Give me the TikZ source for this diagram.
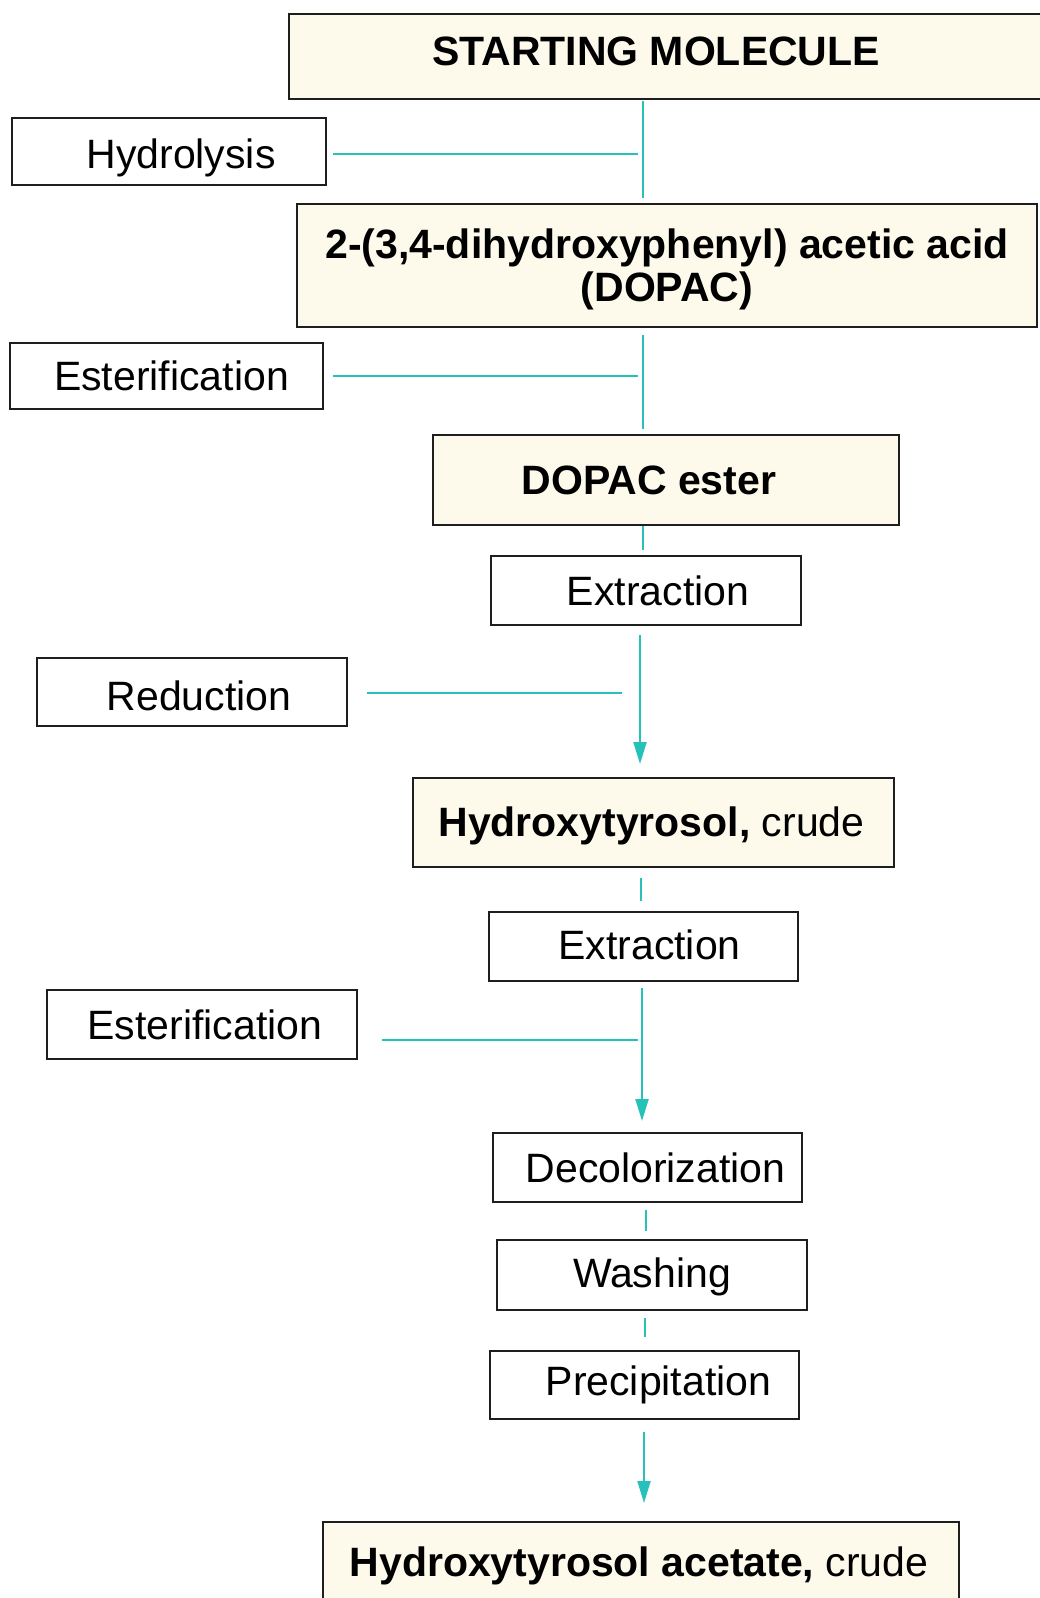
\documentclass[tikz,border=0pt]{standalone}
\usepackage{fontspec}
\setmainfont{Liberation Sans}
\usetikzlibrary{arrows.meta}
\definecolor{cream}{RGB}{253,250,236}
\definecolor{teal2}{RGB}{38,194,186}
\definecolor{edge}{RGB}{30,30,30}
\newcommand{\lowerby}[2]{\raisebox{-#1}[\height][\depth]{#2}}
\tikzset{
  base/.style={draw=edge, line width=2pt, inner sep=0pt, rectangle, anchor=center},
  mainbox/.style={base, fill=cream, font=\bfseries\fontsize{41}{43}\selectfont},
  stepbox/.style={base, fill=white, font=\fontsize{41}{43}\selectfont},
  link/.style={draw=teal2, line width=2.2pt},
  arr/.style={link, -{Triangle[length=22pt,width=13pt]}, teal2}
}
\begin{document}
\begin{tikzpicture}[x=1pt,y=-1pt]
\useasboundingbox (0,0) rectangle (1039,1598);
% nodes
\node[mainbox, minimum width=756pt, minimum height=85pt] (start) at (667,56.5) {\lowerby{-5pt}{STARTING MOLECULE}\hspace*{22pt}};
\node[stepbox, minimum width=314pt, minimum height=67pt] (hyd) at (169,151.5) {\hspace*{24pt}\lowerby{6pt}{Hydrolysis}};
\node[mainbox, minimum width=740pt, minimum height=123pt] (dopac) at (667,265.5) {\lowerby{6pt}{\begin{tabular}{@{}c@{}}2-(3,4-dihydroxyphenyl) acetic acid\\(DOPAC)\end{tabular}}};
\node[stepbox, minimum width=313pt, minimum height=66pt] (est1) at (166.5,376) {\hspace*{10pt}Esterification};
\node[mainbox, minimum width=466pt, minimum height=90pt] (ester) at (666,480) {DOPAC ester\hspace*{34pt}};
\node[stepbox, minimum width=310pt, minimum height=69pt] (ext1) at (646,590.5) {\hspace*{24pt}Extraction};
\node[stepbox, minimum width=310pt, minimum height=68pt] (red) at (192,692) {\hspace*{14pt}\lowerby{4pt}{Reduction}};
\node[mainbox, minimum width=481pt, minimum height=89pt] (crude) at (653.5,822.5) {\lowerby{3pt}{Hydroxytyrosol, \mdseries crude}\hspace*{4pt}};
\node[stepbox, minimum width=309pt, minimum height=69pt] (ext2) at (643.5,946.5) {\hspace*{12pt}\lowerby{-2pt}{Extraction}};
\node[stepbox, minimum width=310pt, minimum height=69pt] (est2) at (202,1024.5) {\hspace*{6pt}Esterification};
\node[stepbox, minimum width=309pt, minimum height=69pt] (decol) at (647.5,1167.5) {\hspace*{16pt}Decolorization};
\node[stepbox, minimum width=310pt, minimum height=70pt] (wash) at (652,1275) {\lowerby{2pt}{Washing}};
\node[stepbox, minimum width=309pt, minimum height=68pt] (prec) at (644.5,1385) {\hspace*{28pt}Precipitation};
\node[mainbox, minimum width=636pt, minimum height=84pt] (acet) at (641,1564) {\lowerby{2pt}{Hydroxytyrosol acetate, \mdseries crude}\hspace*{4pt}};
% trunk coordinates
\coordinate (t1) at (643,0);
\coordinate (t2) at (640,0);
\coordinate (t3) at (641,0);
\coordinate (t4) at (642,0);
\coordinate (t5) at (646,0);
\coordinate (t6) at (645,0);
\coordinate (t7) at (644,0);
\coordinate (j1) at (638,154);
\coordinate (j2) at (638,376);
\coordinate (j3) at (622,693);
\coordinate (j4) at (638,1040);
% connectors
\draw[link] ([yshift=-1pt]start.south -| t1) -- ([yshift=5pt]dopac.north -| t1);
\draw[link] ([xshift=6pt]hyd.east |- j1) -- (j1);
\draw[link] ([yshift=-7pt]dopac.south -| t1) -- ([yshift=5pt]ester.north -| t1);
\draw[link] ([xshift=9pt]est1.east |- j2) -- (j2);
\draw[link] (ester.south -| t1) -- ([yshift=5pt]ext1.north -| t1);
\draw[arr] ([yshift=-9pt]ext1.south -| t2) -- ([yshift=13pt]crude.north -| t2);
\draw[link] ([xshift=19pt]red.east |- j3) -- (j3);
\draw[link] ([yshift=-10pt]crude.south -| t3) -- ([yshift=10pt]ext2.north -| t3);
\draw[arr] ([yshift=-6pt]ext2.south -| t4) -- ([yshift=11pt]decol.north -| t4);
\draw[link] ([xshift=24pt]est2.east |- j4) -- (j4);
\draw[link] ([yshift=-7pt]decol.south -| t5) -- ([yshift=8pt]wash.north -| t5);
\draw[link] ([yshift=-7pt]wash.south -| t6) -- ([yshift=13pt]prec.north -| t6);
\draw[arr] ([yshift=-12pt]prec.south -| t7) -- ([yshift=18pt]acet.north -| t7);
\end{tikzpicture}
\end{document}
